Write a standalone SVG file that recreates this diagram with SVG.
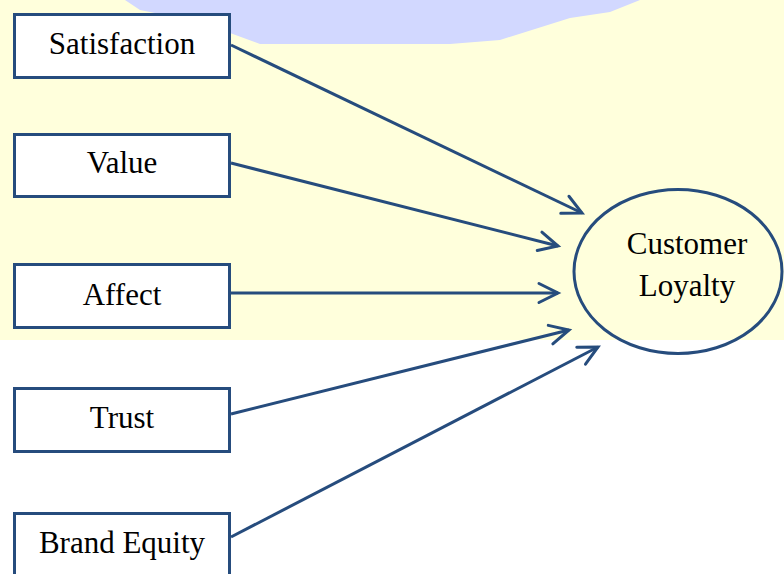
<svg xmlns="http://www.w3.org/2000/svg" width="784" height="574" viewBox="0 0 784 574">
  <defs>
    <marker id="arrow" markerUnits="userSpaceOnUse" markerWidth="30" markerHeight="30" viewBox="-25 -15 30 30" refX="0" refY="0" orient="auto" overflow="visible">
      <path d="M -19,-9.5 L 0,0 L -19,9.5" fill="none" stroke="#264c7d" stroke-width="3" stroke-linejoin="miter" stroke-linecap="round"/>
    </marker>
  </defs>
  <style>
    .box { fill: #ffffff; stroke: #264c7d; stroke-width: 3; }
    .ell { fill: none; stroke: #264c7d; stroke-width: 3; }
    .lbl { font-family: "Liberation Serif", "Times New Roman", serif; font-size: 31px; fill: #000000; text-anchor: middle; }
    .conn { stroke: #264c7d; stroke-width: 3; fill: none; marker-end: url(#arrow); }
  </style>
  <g id="background">
    <rect x="0" y="0" width="784" height="574" fill="#ffffff"/>
    <rect x="0" y="0" width="784" height="340" fill="#ffffdc"/>
    <polygon points="125,0 640,0 610,12 570,18 500,40 450,44 260,44 200,22 140,10" fill="#d2d8ff"/>
  </g>
  <g id="connectors">
    <line class="conn" x1="231" y1="45" x2="582" y2="213"/>
    <line class="conn" x1="231" y1="163" x2="558" y2="246"/>
    <line class="conn" x1="231" y1="293" x2="558" y2="293"/>
    <line class="conn" x1="231" y1="414" x2="569" y2="330"/>
    <line class="conn" x1="231" y1="537" x2="598" y2="347"/>
  </g>
  <g id="satisfaction">
    <rect class="box" x="14.5" y="14.5" width="215" height="63"/>
    <text class="lbl" x="122" y="54">Satisfaction</text>
  </g>
  <g id="value">
    <rect class="box" x="14.5" y="134.5" width="215" height="62"/>
    <text class="lbl" x="122" y="173">Value</text>
  </g>
  <g id="affect">
    <rect class="box" x="14.5" y="264.5" width="215" height="63"/>
    <text class="lbl" x="122" y="305">Affect</text>
  </g>
  <g id="trust">
    <rect class="box" x="14.5" y="388.5" width="215" height="63"/>
    <text class="lbl" x="122" y="428">Trust</text>
  </g>
  <g id="brand-equity">
    <rect class="box" x="14.5" y="513.5" width="215" height="63"/>
    <text class="lbl" x="122" y="553">Brand Equity</text>
  </g>
  <g id="customer-loyalty">
    <ellipse class="ell" cx="678" cy="271.5" rx="104" ry="82"/>
    <text class="lbl" x="687" y="254">Customer</text>
    <text class="lbl" x="687" y="296">Loyalty</text>
  </g>
</svg>
